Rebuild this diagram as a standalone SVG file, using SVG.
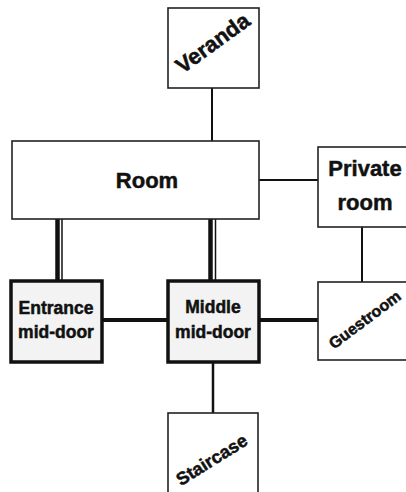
<svg xmlns="http://www.w3.org/2000/svg" width="406" height="492" viewBox="0 0 406 492">
<style>
.box{fill:#fff;stroke:#222;stroke-width:1.6}
.door{fill:#f3f3f3;stroke:#111;stroke-width:3.5}
.t{font-family:"Liberation Sans",Arial,sans-serif;font-weight:bold;fill:#111;stroke:#111;stroke-width:0.5;text-anchor:middle}
.ln{stroke:#111;fill:none}
</style>
<rect width="406" height="492" fill="#fff"/>
<g id="connectors">
<line class="ln" x1="212" y1="88" x2="212" y2="141" stroke-width="2"/>
<line class="ln" x1="259" y1="180" x2="318" y2="180" stroke-width="2"/>
<line class="ln" x1="362" y1="227" x2="362" y2="283" stroke-width="2"/>
<line class="ln" x1="57.5" y1="219" x2="57.5" y2="281" stroke-width="4.5"/>
<line class="ln" x1="62" y1="219" x2="62" y2="281" stroke-width="1.5"/>
<line class="ln" x1="210.5" y1="219" x2="210.5" y2="281" stroke-width="4.5"/>
<line class="ln" x1="215.5" y1="219" x2="215.5" y2="281" stroke-width="1.5"/>
<line class="ln" x1="102" y1="320" x2="168" y2="320" stroke-width="4"/>
<line class="ln" x1="259" y1="320" x2="318" y2="320" stroke-width="4"/>
<line class="ln" x1="213" y1="362" x2="213" y2="413" stroke-width="2.5"/>
</g>
<g id="veranda">
<rect class="box" x="168" y="8" width="91" height="80"/>
<text class="t" font-size="22" transform="translate(217,49) rotate(-36)">Veranda</text>
</g>
<g id="room">
<rect class="box" x="12" y="141" width="247" height="78"/>
<text class="t" font-size="22" x="147" y="188">Room</text>
</g>
<g id="private-room">
<rect class="box" x="318" y="147" width="100" height="80"/>
<text class="t" font-size="22" x="365" y="176">Private</text>
<text class="t" font-size="22" x="365" y="210">room</text>
</g>
<g id="entrance">
<rect class="door" x="11" y="281" width="91" height="81"/>
<text class="t" font-size="17.5" x="56" y="314">Entrance</text>
<text class="t" font-size="17.5" x="56" y="338">mid-door</text>
</g>
<g id="middle">
<rect class="door" x="168" y="281" width="91" height="81"/>
<text class="t" font-size="17.5" x="213" y="313">Middle</text>
<text class="t" font-size="17.5" x="213" y="338">mid-door</text>
</g>
<g id="guestroom">
<rect class="box" x="318" y="282" width="100" height="78"/>
<text class="t" font-size="16" transform="translate(368,324) rotate(-37)">Guestroom</text>
</g>
<g id="staircase">
<rect class="box" x="168" y="413" width="90" height="90"/>
<text class="t" font-size="18" transform="translate(215,465) rotate(-32)">Staircase</text>
</g>
</svg>
